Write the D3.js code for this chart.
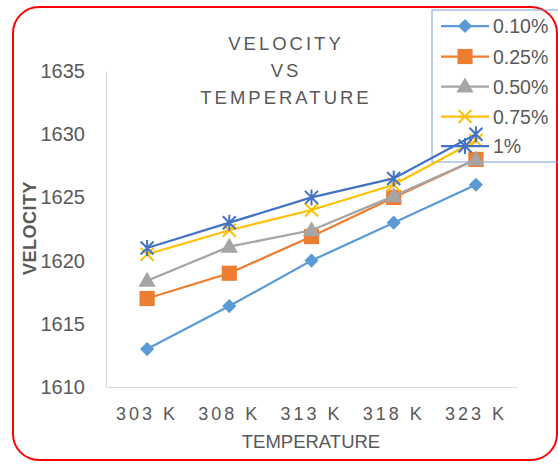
<!DOCTYPE html>
<html>
<head>
<meta charset="utf-8">
<script src="https://cdn.jsdelivr.net/npm/d3@7"></script>
<style>
  html, body { margin: 0; padding: 0; background: #fff; }
  svg { display: block; font-family: "Liberation Sans", Arial, sans-serif; }
</style>
</head>
<body>
<svg id="chart" width="558" height="465"></svg>
<script>
// ---- data ----
const categories = ["303 K", "308 K", "313 K", "318 K", "323 K"];
const seriesNames = ["0.10%", "0.25%", "0.50%", "0.75%", "1%"];
const v010 = [1613, 1616.4, 1620, 1623, 1626];
const v025 = [1617, 1619, 1621.9, 1625, 1628];
const v050 = [1618.4, 1621.1, 1622.4, 1625.1, 1628];
const v075 = [1620.5, 1622.4, 1624, 1626, 1629.5];
const v100 = [1621, 1623, 1625, 1626.5, 1630];
const yTicks = [1610, 1615, 1620, 1625, 1630, 1635];
const titleLines = ["VELOCITY", "VS", "TEMPERATURE"];

const colors = ["#5B9BD5", "#ED7D31", "#A5A5A5", "#FFC000", "#4472C4"];
const markers = ["diamond", "square", "triangle", "x", "star"];
const series = seriesNames.map((n, i) => ({
  name: n, values: [v010, v025, v050, v075, v100][i], color: colors[i], marker: markers[i]
}));

const svg = d3.select("#chart");
const textColor = "#595959";

// outer rounded border
svg.append("rect")
  .attr("x", 13).attr("y", 7).attr("width", 544).attr("height", 453)
  .attr("rx", 26).attr("ry", 26)
  .attr("fill", "#fff").attr("stroke", "#FF0000").attr("stroke-width", 2);

const plot = { left: 106, right: 517, top: 71, bottom: 387 };
const x = d3.scaleBand().domain(categories).range([plot.left, plot.right]).padding(0);
const y = d3.scaleLinear().domain([1610, 1635]).range([plot.bottom, plot.top]);
const cx = c => x(c) + x.bandwidth() / 2;

// axes
const yAxis = d3.axisLeft(y).tickValues(yTicks).tickSize(0).tickPadding(21).tickFormat(d3.format("d"));
const gy = svg.append("g").attr("transform", `translate(${plot.left},0)`).call(yAxis);
gy.select(".domain").attr("stroke", "#D9D9D9").attr("stroke-width", 1);
gy.selectAll("text").attr("fill", textColor).style("font-size", "20px")
  .style("font-family", "'Liberation Sans', Arial, sans-serif");

const xAxis = d3.axisBottom(x).tickSize(0).tickPadding(20);
const gx = svg.append("g").attr("transform", `translate(0,${plot.bottom})`).call(xAxis);
gx.select(".domain").attr("stroke", "#D9D9D9").attr("stroke-width", 1);
gx.selectAll("text").attr("fill", textColor).style("font-size", "18px")
  .style("letter-spacing", "3px")
  .style("font-family", "'Liberation Sans', Arial, sans-serif");

// axis titles
svg.append("text").attr("x", 311).attr("y", 448).attr("text-anchor", "middle")
  .attr("fill", textColor).style("font-size", "18.5px").text("TEMPERATURE");
svg.append("text").attr("transform", "translate(36,228) rotate(-90)").attr("text-anchor", "middle")
  .attr("fill", textColor).style("font-size", "18px").style("font-weight", "bold")
  .style("letter-spacing", "0.5px").text("VELOCITY");

// chart title
const titleY = [50, 77, 104];
titleLines.forEach((t, i) => {
  svg.append("text").attr("x", 286).attr("y", titleY[i]).attr("text-anchor", "middle")
    .attr("fill", textColor).style("font-size", "18.5px").style("letter-spacing", "3px").text(t);
});

// marker drawing
function drawMarker(g, type, color, px, py) {
  if (type === "diamond") {
    g.append("path").attr("d", d3.symbol(d3.symbolSquare, 100)())
      .attr("transform", `translate(${px},${py}) rotate(45)`).attr("fill", color);
  } else if (type === "square") {
    g.append("path").attr("d", d3.symbol(d3.symbolSquare, 230)())
      .attr("transform", `translate(${px},${py})`).attr("fill", color);
  } else if (type === "triangle") {
    g.append("path").attr("d", d3.symbol(d3.symbolTriangle, 130)())
      .attr("transform", `translate(${px},${py + 1})`).attr("fill", color);
  } else if (type === "x" || type === "star") {
    const r = 6.5;
    const p = d3.path();
    p.moveTo(-r, -r); p.lineTo(r, r);
    p.moveTo(-r, r); p.lineTo(r, -r);
    if (type === "star") { p.moveTo(0, -r - 1.5); p.lineTo(0, r + 1.5); }
    g.append("path").attr("d", p.toString())
      .attr("transform", `translate(${px},${py})`)
      .attr("stroke", color).attr("stroke-width", 2).attr("fill", "none");
  }
}

// legend box (no fill, drawn under series)
const legend = { x: 432, y: 10, w: 130, h: 152 };
svg.append("rect").attr("x", legend.x).attr("y", legend.y).attr("width", legend.w).attr("height", legend.h)
  .attr("fill", "none").attr("stroke", "#7F9FD6").attr("stroke-width", 1);

// series
const line = d3.line().x((d, i) => cx(categories[i])).y(d => y(d));
series.forEach(s => {
  const g = svg.append("g");
  g.append("path").datum(s.values).attr("d", line)
    .attr("fill", "none").attr("stroke", s.color).attr("stroke-width", 2.25);
  s.values.forEach((v, i) => drawMarker(g, s.marker, s.color, cx(categories[i]), y(v)));
});

// legend entries
const legRowY = [26, 56.5, 86.5, 116.5, 146];
series.forEach((s, i) => {
  const g = svg.append("g");
  const ly = legRowY[i];
  g.append("line").attr("x1", 441).attr("x2", 489).attr("y1", ly).attr("y2", ly)
    .attr("stroke", s.color).attr("stroke-width", 2.25);
  drawMarker(g, s.marker, s.color, 465, ly);
  g.append("text").attr("x", 493).attr("y", ly + 7).attr("fill", textColor)
    .style("font-size", "19.5px").text(s.name);
});

// mask overflow beyond the red border on the right
svg.append("rect").attr("x", 558).attr("y", 0).attr("width", 10).attr("height", 465).attr("fill", "#fff");
</script>
</body>
</html>
